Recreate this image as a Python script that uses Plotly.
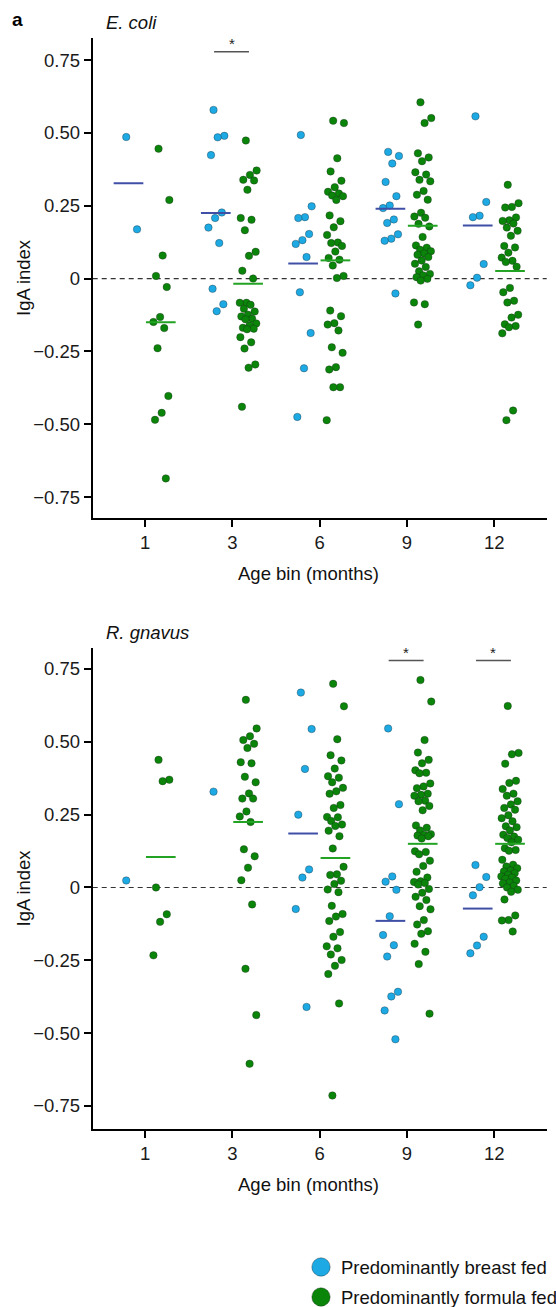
import numpy as np
import plotly.graph_objects as go

# ---- data -----------------------------------------------------------------
age_bins = ["1", "3", "6", "9", "12"]
y_tick_vals = [-0.75, -0.5, -0.25, 0, 0.25, 0.5, 0.75]
y_tick_text = ["\u22120.75", "\u22120.50", "\u22120.25", "0", "0.25", "0.50", "0.75"]

ecoli_breast = [
    [0.486, 0.169],
    [0.579, 0.490, 0.485, 0.424, 0.227, 0.208, 0.175, 0.122, -0.035, -0.088, -0.112],
    [0.493, 0.248, 0.211, 0.208, 0.153, 0.132, 0.119, 0.074, -0.047, -0.187, -0.308, -0.475],
    [0.435, 0.421, 0.395, 0.332, 0.283, 0.251, 0.242, 0.203, 0.191, 0.152, 0.137, 0.130, -0.051],
    [0.557, 0.263, 0.216, 0.211, 0.050, 0.003, -0.023],
]
ecoli_formula = [
    [0.446, 0.270, 0.079, 0.009, -0.029, -0.132, -0.149, -0.170, -0.239, -0.403, -0.461, -0.485, -0.686],
    [0.474, 0.371, 0.356, 0.339, 0.337, 0.305, 0.208, 0.202, 0.166, 0.092, 0.078, 0.027, 0.000,
     -0.083, -0.083, -0.090, -0.104, -0.113, -0.124, -0.130, -0.138, -0.140, -0.154, -0.161,
     -0.169, -0.172, -0.174, -0.201, -0.219, -0.240, -0.295, -0.306, -0.440],
    [0.542, 0.534, 0.413, 0.368, 0.336, 0.314, 0.298, 0.292, 0.285, 0.283, 0.270, 0.217, 0.197,
     0.176, 0.150, 0.124, 0.122, 0.112, 0.093, 0.071, 0.065, 0.045, 0.009, 0.002, -0.110, -0.129,
     -0.153, -0.158, -0.178, -0.236, -0.255, -0.304, -0.312, -0.373, -0.373, -0.486],
    [0.605, 0.551, 0.534, 0.430, 0.416, 0.403, 0.365, 0.357, 0.339, 0.334, 0.301, 0.288, 0.271,
     0.226, 0.213, 0.209, 0.188, 0.179, 0.143, 0.114, 0.106, 0.099, 0.094, 0.086, 0.082, 0.074,
     0.062, 0.051, 0.040, 0.025, 0.016, 0.011, 0.005, -0.001, -0.007, -0.082, -0.088, -0.158],
    [0.322, 0.259, 0.246, 0.244, 0.210, 0.200, 0.198, 0.189, 0.175, 0.164, 0.147, 0.112, 0.107,
     0.089, 0.072, 0.061, 0.057, 0.041, -0.032, -0.047, -0.076, -0.082, -0.124, -0.134, -0.157,
     -0.163, -0.167, -0.188, -0.453, -0.486],
]

gnavus_breast = [
    [0.024],
    [0.329],
    [0.669, 0.544, 0.407, 0.250, 0.062, 0.034, -0.074, -0.410],
    [0.546, 0.286, 0.038, 0.020, -0.008, -0.099, -0.163, -0.198, -0.237, -0.358, -0.374, -0.422, -0.521],
    [0.077, 0.036, 0.001, -0.027, -0.169, -0.199, -0.226],
]
gnavus_formula = [
    [0.438, 0.370, 0.365, 0.000, -0.092, -0.118, -0.233],
    [0.644, 0.546, 0.519, 0.506, 0.493, 0.479, 0.430, 0.426, 0.380, 0.361, 0.323, 0.305, 0.305,
     0.261, 0.244, 0.225, 0.131, 0.107, 0.068, 0.025, -0.058, -0.279, -0.438, -0.605],
    [0.699, 0.622, 0.509, 0.454, 0.436, 0.408, 0.382, 0.377, 0.361, 0.342, 0.330, 0.322, 0.283,
     0.273, 0.242, 0.241, 0.228, 0.216, 0.211, 0.195, 0.176, 0.134, 0.071, 0.045, 0.043, 0.023,
     0.012, -0.007, -0.016, -0.063, -0.091, -0.100, -0.115, -0.153, -0.169, -0.202, -0.209,
     -0.230, -0.249, -0.269, -0.297, -0.398, -0.714],
    [0.712, 0.638, 0.506, 0.463, 0.438, 0.426, 0.402, 0.394, 0.392, 0.357, 0.347, 0.341, 0.322,
     0.318, 0.315, 0.298, 0.296, 0.280, 0.265, 0.213, 0.205, 0.196, 0.183, 0.180, 0.178, 0.176,
     0.168, 0.124, 0.122, 0.114, 0.092, 0.074, 0.054, 0.034, 0.021, 0.019, 0.015, 0.010, -0.005,
     -0.018, -0.032, -0.043, -0.064, -0.075, -0.112, -0.127, -0.150, -0.159, -0.193, -0.221,
     -0.263, -0.433],
    [0.623, 0.462, 0.457, 0.425, 0.366, 0.359, 0.338, 0.322, 0.315, 0.296, 0.285, 0.273, 0.267,
     0.248, 0.238, 0.227, 0.210, 0.207, 0.196, 0.181, 0.175, 0.170, 0.164, 0.155, 0.135, 0.129,
     0.126, 0.095, 0.078, 0.072, 0.066, 0.058, 0.055, 0.049, 0.044, 0.038, 0.034, 0.030, 0.024,
     0.017, 0.014, 0.005, 0.000, -0.008, -0.015, -0.041, -0.096, -0.112, -0.113, -0.151],
]

# age bins (index) that carry a significance bracket, per panel
ecoli_signif = [1]
gnavus_signif = [3, 4]

# ---- styling ----------------------------------------------------------------
W, H = 556, 1307
FONT = "Arial, 'Liberation Sans', Helvetica, sans-serif"
BF_COLOR = "#1CA9E4"
FF_COLOR = "#0A850A"
BF_MEAN = "#3F4FA6"
FF_MEAN = "#23A323"
GROUP_SHIFT = {"bf": -0.19, "ff": 0.18}
JITTER = 0.10
MEAN_HALF = 0.17
FS = 18.5


def px(x):
    return x / W


def py(y):
    return 1 - y / H


X_DOMAIN = [px(92.7), px(546.7)]
PANELS = [
    dict(name="E. coli", breast=ecoli_breast, formula=ecoli_formula, signif=ecoli_signif,
         top=38, bottom=518, yr=[-0.822, 0.826], xa="x", ya="y"),
    dict(name="R. gnavus", breast=gnavus_breast, formula=gnavus_formula, signif=gnavus_signif,
         top=648, bottom=1129, yr=[-0.829, 0.822], xa="x2", ya="y2"),
]

fig = go.Figure()


def jitter_offsets(n):
    # low-discrepancy spread so points in a bin do not sit on one vertical line
    k = np.arange(n)
    return (2 * ((0.37 + k * 0.6180339887) % 1.0) - 1) * JITTER


shapes = []
annotations = []

for p in PANELS:
    for key, groups, color, mcolor in (("bf", p["breast"], BF_COLOR, BF_MEAN),
                                       ("ff", p["formula"], FF_COLOR, FF_MEAN)):
        xs, ys, mx, my = [], [], [], []
        for i, vals in enumerate(groups):
            vals = np.asarray(vals, dtype=float)
            centre = i + GROUP_SHIFT[key]
            xs.extend(centre + jitter_offsets(len(vals)))
            ys.extend(vals)
            if len(vals) > 1:
                m = float(np.mean(vals))
                mx += [centre - MEAN_HALF, centre + MEAN_HALF, None]
                my += [m, m, None]
        fig.add_trace(go.Scatter(
            x=xs, y=ys, mode="markers", xaxis=p["xa"], yaxis=p["ya"], showlegend=False,
            marker=dict(size=7.5, color=color, line=dict(width=0.6, color="rgba(30,30,30,0.55)")),
            hoverinfo="skip"))
        fig.add_trace(go.Scatter(
            x=mx, y=my, mode="lines", xaxis=p["xa"], yaxis=p["ya"], showlegend=False,
            line=dict(color=mcolor, width=2), hoverinfo="skip"))

    # dashed zero reference line
    shapes.append(dict(type="line", xref=f"{p['xa']} domain", yref=p["ya"], x0=0, x1=1, y0=0, y1=0,
                       line=dict(color="#333333", width=1.2, dash="5px,4px"), layer="below"))
    # significance brackets
    for i in p["signif"]:
        shapes.append(dict(type="line", xref=p["xa"], yref=p["ya"], x0=i - 0.21, x1=i + 0.19,
                           y0=0.779, y1=0.779, line=dict(color="#555555", width=1.5)))
        annotations.append(dict(x=i - 0.01, y=0.779, xref=p["xa"], yref=p["ya"], text="*",
                                showarrow=False, yanchor="bottom", yshift=-2,
                                font=dict(family=FONT, size=15, color="#222222")))
    # panel title
    annotations.append(dict(x=px(104), y=py(p["top"] - 16), xref="paper", yref="paper",
                            text=f"<i>{p['name']}</i>", showarrow=False, xanchor="left",
                            yanchor="middle", font=dict(family=FONT, size=FS, color="#111111")))
    # axis titles
    annotations.append(dict(x=px(308), y=py(p["bottom"] + 55), xref="paper", yref="paper",
                            text="Age bin (months)", showarrow=False, xanchor="center",
                            yanchor="middle", font=dict(family=FONT, size=FS, color="#111111")))
    annotations.append(dict(x=px(23), y=py((p["top"] + p["bottom"]) / 2), xref="paper",
                            yref="paper", text="IgA index", showarrow=False, textangle=-90,
                            xanchor="center", yanchor="middle",
                            font=dict(family=FONT, size=FS, color="#111111")))

# panel letter
annotations.append(dict(x=px(10), y=py(20), xref="paper", yref="paper", text="<b>a</b>",
                        showarrow=False, xanchor="left", yanchor="middle",
                        font=dict(family=FONT, size=19, color="#000000")))

# legend drawn as circles + labels
legend_items = [("Predominantly breast fed", BF_COLOR, 1267), ("Predominantly formula fed", FF_COLOR, 1297)]
for label, color, yc in legend_items:
    r = 9.2
    shapes.append(dict(type="circle", xref="paper", yref="paper", x0=px(321 - r), x1=px(321 + r),
                       y0=py(yc + r), y1=py(yc - r), fillcolor=color,
                       line=dict(color="rgba(30,30,30,0.45)", width=0.8)))
    annotations.append(dict(x=px(339), y=py(yc), xref="paper", yref="paper", text=label,
                            showarrow=False, xanchor="left", yanchor="middle",
                            font=dict(family=FONT, size=FS, color="#111111")))

axis_common = dict(showline=True, linewidth=2, linecolor="#000000", ticks="outside", ticklen=7,
                   tickwidth=1.5, tickcolor="#000000", showgrid=False, zeroline=False,
                   tickfont=dict(family=FONT, size=FS, color="#1a1a1a"))

layout = dict(width=W, height=H, margin=dict(l=0, r=0, t=0, b=0), plot_bgcolor="white",
              paper_bgcolor="white", shapes=shapes, annotations=annotations, showlegend=False)

for n, p in enumerate(PANELS):
    sfx = "" if n == 0 else "2"
    ydom = [py(p["bottom"]), py(p["top"])]
    layout[f"xaxis{sfx}"] = dict(axis_common, domain=X_DOMAIN, range=[-0.6, 4.6],
                                 tickvals=list(range(len(age_bins))), ticktext=age_bins,
                                 anchor=f"y{sfx}")
    layout[f"yaxis{sfx}"] = dict(axis_common, domain=ydom, range=p["yr"], tickvals=y_tick_vals,
                                 ticktext=y_tick_text, anchor=f"x{sfx}")

fig.update_layout(**layout)
fig.write_html("out.html")
